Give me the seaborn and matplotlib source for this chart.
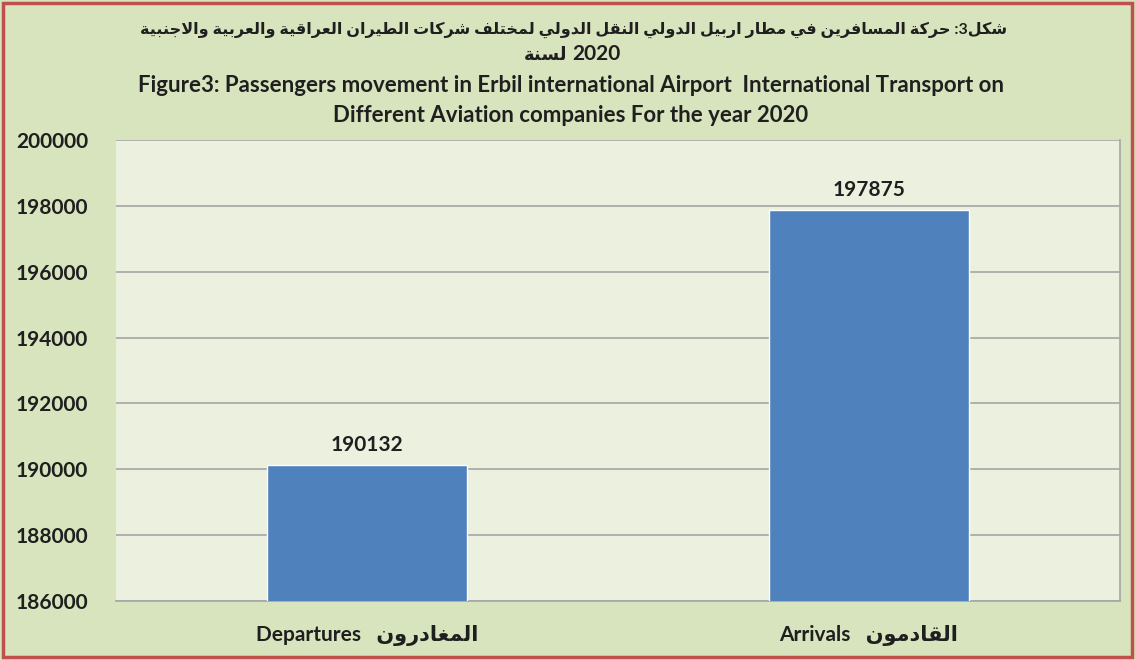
import re
import matplotlib
matplotlib.use("Agg")
import matplotlib.pyplot as plt
import matplotlib.patches as mpatches
import seaborn as sns

categories = ["Departures", "Arrivals"]
categories_ar = ["المغادرون", "القادمون"]
values = [190132, 197875]
y_ticks = [186000, 188000, 190000, 192000, 194000, 196000, 198000, 200000]

title_ar = "شكل3: حركة المسافرين في مطار اربيل الدولي النقل الدولي لمختلف شركات الطيران العراقية والعربية والاجنبية"
title_ar2 = "لسنة"
title_year = "2020"
title_en1 = "Figure3: Passengers movement in Erbil international Airport  International Transport on"
title_en2 = "Different Aviation companies For the year 2020"

# minimal arabic shaping (presentation forms) + visual reordering
FORMS = {
    'ا': (0xFE8D, 2), 'أ': (0xFE83, 2), 'إ': (0xFE87, 2), 'آ': (0xFE81, 2),
    'ب': (0xFE8F, 4), 'ة': (0xFE93, 2), 'ت': (0xFE95, 4), 'ث': (0xFE99, 4),
    'ج': (0xFE9D, 4), 'ح': (0xFEA1, 4), 'خ': (0xFEA5, 4), 'د': (0xFEA9, 2),
    'ذ': (0xFEAB, 2), 'ر': (0xFEAD, 2), 'ز': (0xFEAF, 2), 'س': (0xFEB1, 4),
    'ش': (0xFEB5, 4), 'ص': (0xFEB9, 4), 'ض': (0xFEBD, 4), 'ط': (0xFEC1, 4),
    'ظ': (0xFEC5, 4), 'ع': (0xFEC9, 4), 'غ': (0xFECD, 4), 'ف': (0xFED1, 4),
    'ق': (0xFED5, 4), 'ك': (0xFED9, 4), 'ل': (0xFEDD, 4), 'م': (0xFEE1, 4),
    'ن': (0xFEE5, 4), 'ه': (0xFEE9, 4), 'و': (0xFEED, 2), 'ى': (0xFEEF, 2),
    'ي': (0xFEF1, 4),
}


def shape(s):
    out = []
    i = 0
    n = len(s)
    while i < n:
        c = s[i]
        if c not in FORMS:
            out.append(c)
            i += 1
            continue
        prev = s[i - 1] if i > 0 else None
        jp = prev in FORMS and FORMS[prev][1] == 4
        if c == 'ل' and i + 1 < n and s[i + 1] == 'ا':
            out.append(chr(0xFEFC if jp else 0xFEFB))
            i += 2
            continue
        nxt = s[i + 1] if i + 1 < n else None
        jn = FORMS[c][1] == 4 and nxt in FORMS
        base = FORMS[c][0]
        if jp and jn:
            code = base + 3
        elif jp:
            code = base + 1
        elif jn:
            code = base + 2
        else:
            code = base
        out.append(chr(code))
        i += 1
    return "".join(out)


def visual(s):
    parts = re.split(r"([0-9A-Za-z]+)", shape(s))
    return "".join(p if re.fullmatch(r"[0-9A-Za-z]+", p) else p[::-1] for p in parts[::-1])


FIG_BG = "#D7E4BD"
AX_BG = "#EBF0DF"
BAR = "#4F81BD"
GRID = "#A6A6A6"
TXT = "#1F1F1F"

sns.set_style("white")
plt.rcParams["font.family"] = ["Lato", "DejaVu Sans"]
plt.rcParams["font.weight"] = "bold"

fig = plt.figure(figsize=(11.35, 6.6), dpi=100, facecolor=FIG_BG)
ax = fig.add_axes([0.1022, 0.0894, 0.8846, 0.6985])
ax.set_facecolor(AX_BG)

sns.barplot(x=categories, y=values, color=BAR, width=0.4, saturation=1, ax=ax, zorder=3)

ax.set_ylim(186000, 200000)
ax.set_yticks(y_ticks)
ax.set_yticklabels([str(t) for t in y_ticks], fontsize=15, fontweight="bold", color=TXT)
ax.set_xlim(-0.5, 1.5)
ax.yaxis.grid(True, color=GRID, linewidth=1.2, zorder=0)
ax.set_axisbelow(True)
ax.tick_params(axis="y", length=0, pad=20)

xlabels = [c + "   " + visual(a) for c, a in zip(categories, categories_ar)]
ax.set_xticks(range(len(categories)))
ax.set_xticklabels(xlabels, fontsize=15, fontweight="bold", color=TXT)
ax.tick_params(axis="x", which="major", length=0, pad=17)
ax.set_xticks([-0.5, 0.5, 1.5], minor=True)
ax.tick_params(axis="x", which="minor", length=6, color=GRID, width=1.2, direction="out")
ax.set_xlabel("")
ax.set_ylabel("")

for s in ["top", "left"]:
    ax.spines[s].set_visible(False)
for s in ["bottom", "right"]:
    ax.spines[s].set_color(GRID)
    ax.spines[s].set_linewidth(1.2)

for p, v in zip(ax.patches, values):
    ax.annotate(str(v), (p.get_x() + p.get_width() / 2, v), xytext=(0, 7),
                textcoords="offset points", ha="center", va="bottom",
                fontsize=15, fontweight="bold", color=TXT)

fig.text(0.505, 1 - 30 / 660, visual(title_ar), ha="center", va="center",
         fontsize=11.5, fontweight="bold", color=TXT)
# second arabic line: word on the left, year on the right (as in the picture)
fig.text(0.5, 1 - 54 / 660, visual(title_ar2), ha="right", va="center",
         fontsize=13, fontweight="bold", color=TXT)
fig.text(0.504, 1 - 54 / 660, title_year, ha="left", va="center",
         fontsize=15, fontweight="bold", color=TXT)
fig.text(0.503, 1 - 86 / 660, title_en1, ha="center", va="center",
         fontsize=16, fontweight="bold", color=TXT)
fig.text(0.503, 1 - 116 / 660, title_en2, ha="center", va="center",
         fontsize=16, fontweight="bold", color=TXT)

fig.patches.append(mpatches.Rectangle((0.003, 0.004), 0.994, 0.992, transform=fig.transFigure,
                                      fill=False, edgecolor="#C0504D", linewidth=2.5))

fig.savefig("out.png", dpi=100, facecolor=FIG_BG)
